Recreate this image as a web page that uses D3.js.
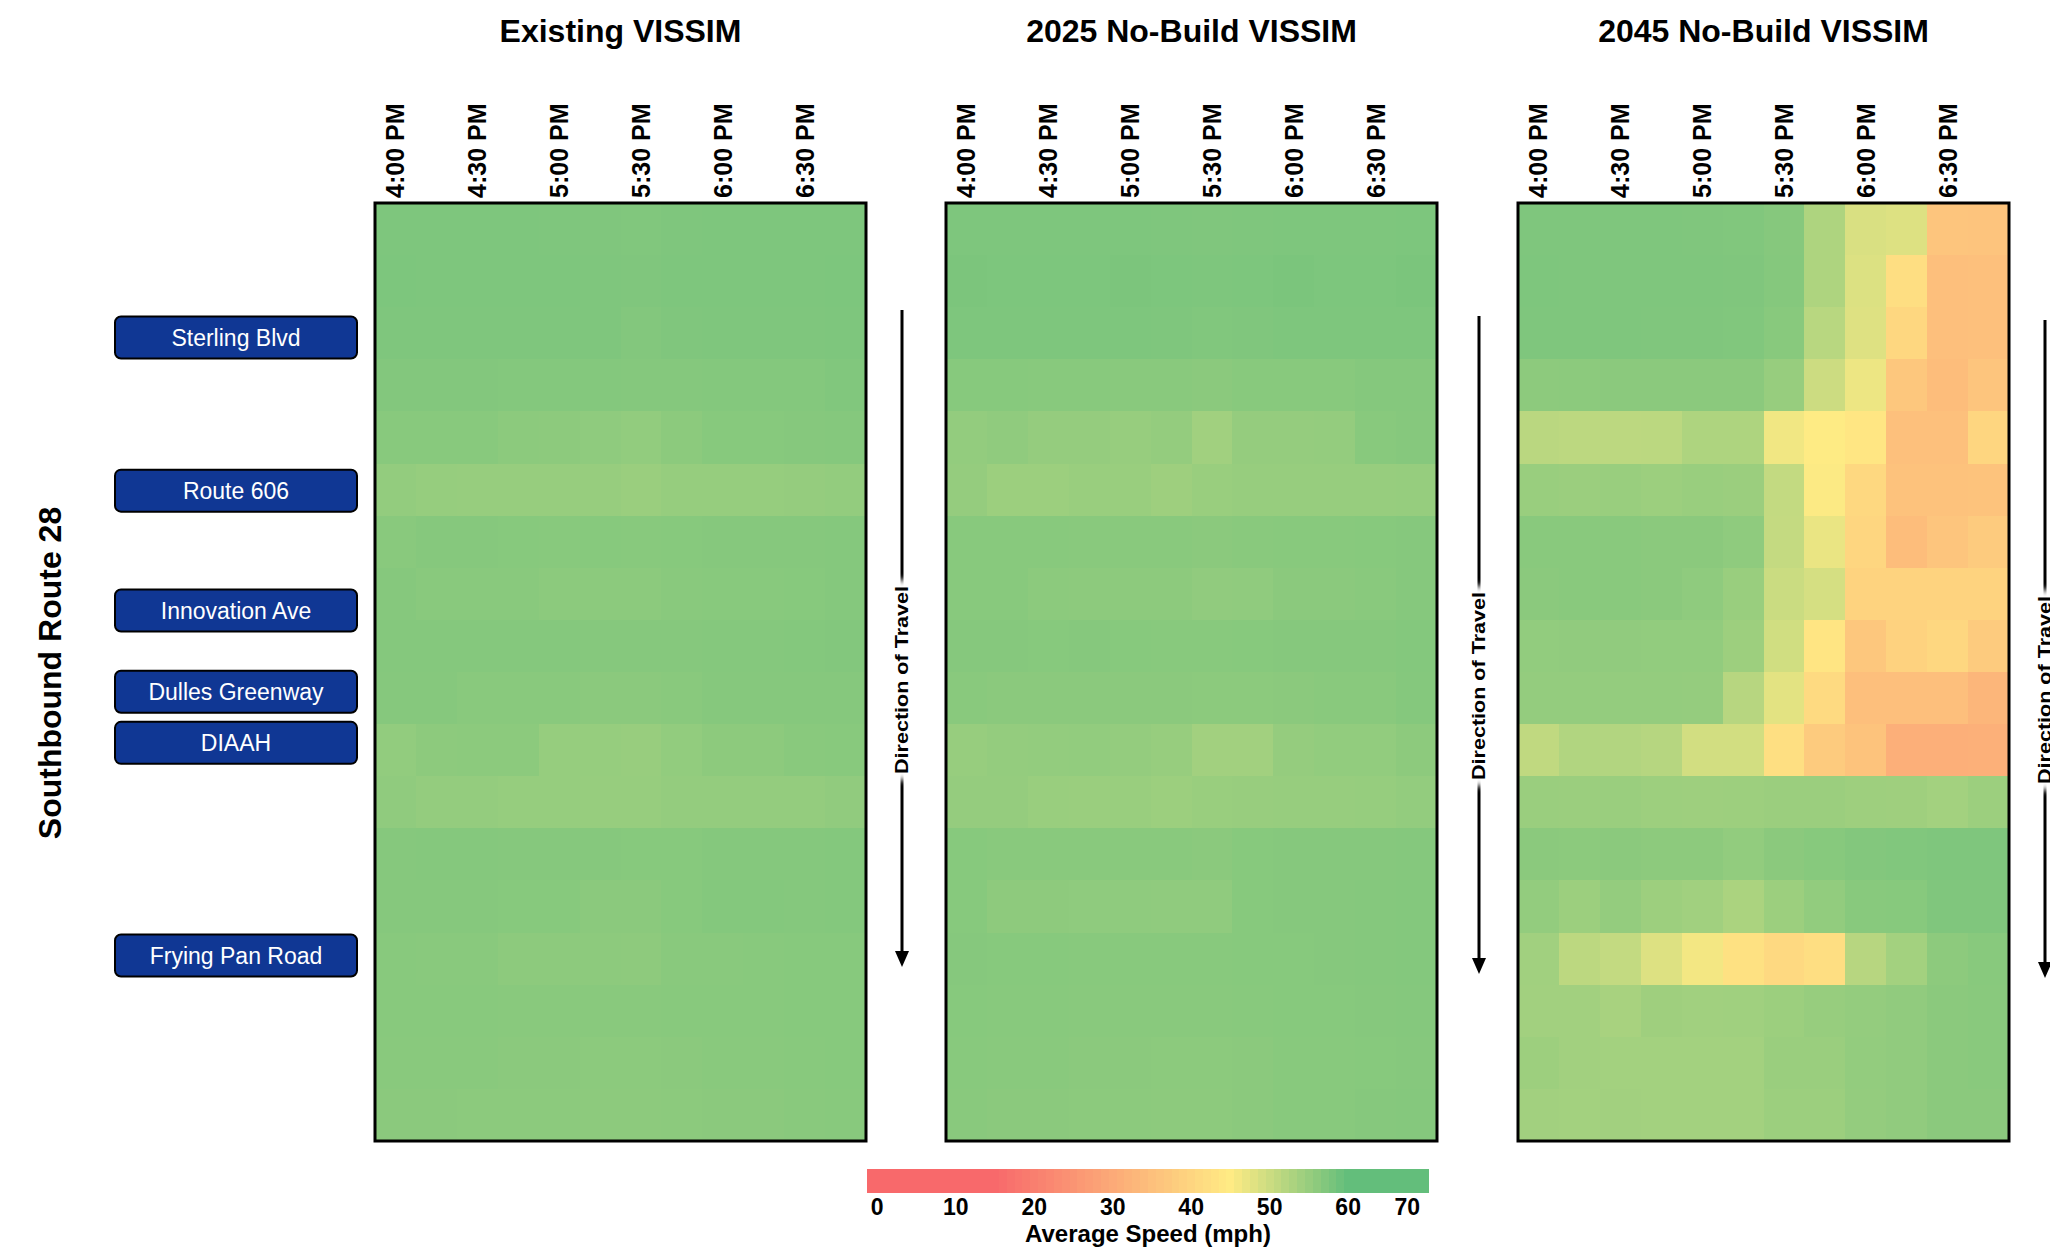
<!DOCTYPE html>
<html>
<head>
<meta charset="utf-8">
<script src="https://cdn.jsdelivr.net/npm/d3@7"></script>
<style>
  body { margin: 0; background: #fff; }
  svg text { font-family: Arial, "Liberation Sans", sans-serif; }
</style>
</head>
<body>
<svg id="chart" width="2050" height="1258"></svg>
<script>
// ---- data ----
var scenarios = ["Existing VISSIM", "2025 No-Build VISSIM", "2045 No-Build VISSIM"];

var times = ["4:00 PM", "4:15 PM", "4:30 PM", "4:45 PM", "5:00 PM", "5:15 PM",
             "5:30 PM", "5:45 PM", "6:00 PM", "6:15 PM", "6:30 PM", "6:45 PM"];
var timeTicks = ["4:00 PM", "4:30 PM", "5:00 PM", "5:30 PM", "6:00 PM", "6:30 PM"];

// average speed (mph), one row per segment (north -> south), one column per 15 min
var existingSpeeds = [
  [57.4,57.4,57.4,57.4,57.3,57.2,57.1,57.3,57.4,57.4,57.4,57.4],
  [57.5,57.4,57.4,57.4,57.4,57.3,57.2,57.4,57.4,57.4,57.4,57.5],
  [57.3,57.3,57.3,57.3,57.3,57.3,56.9,57.2,57.3,57.3,57.3,57.4],
  [56.9,56.9,56.9,56.8,56.8,56.8,56.7,56.7,56.8,56.8,56.8,57.1],
  [56.4,56.4,56.4,56.1,56.0,55.8,55.5,56.1,56.5,56.5,56.6,56.7],
  [55.4,55.1,55.0,55.0,55.0,55.0,54.7,55.1,55.1,55.1,55.2,55.4],
  [56.3,56.6,56.6,56.5,56.4,56.5,56.4,56.5,56.6,56.6,56.6,56.7],
  [56.6,56.3,56.3,56.3,56.1,56.1,56.1,56.3,56.4,56.4,56.5,56.7],
  [56.7,56.7,56.7,56.7,56.7,56.6,56.6,56.6,56.7,56.7,56.8,56.9],
  [56.6,56.6,56.3,56.3,56.3,56.2,56.2,56.3,56.6,56.6,56.6,56.6],
  [55.5,56.0,56.1,56.1,55.1,55.1,54.9,55.5,56.0,56.0,56.3,56.4],
  [55.7,55.3,55.3,55.1,55.1,55.0,55.0,55.3,55.3,55.3,55.3,55.6],
  [56.6,56.7,56.7,56.6,56.6,56.6,56.5,56.5,56.7,56.7,56.7,56.8],
  [56.6,56.6,56.6,56.5,56.5,56.2,56.2,56.5,56.8,56.8,56.7,56.8],
  [56.4,56.3,56.3,56.0,56.0,56.0,55.9,56.3,56.3,56.4,56.5,56.5],
  [56.4,56.4,56.4,56.3,56.3,56.3,56.3,56.4,56.4,56.4,56.5,56.5],
  [56.3,56.3,56.3,56.2,56.2,56.1,56.1,56.2,56.3,56.3,56.4,56.5],
  [56.2,56.2,56.1,56.1,56.1,56.0,56.0,56.1,56.2,56.2,56.3,56.4]
];

var nb2025Speeds = [
  [57.4,57.4,57.4,57.4,57.4,57.3,57.2,57.3,57.4,57.4,57.4,57.5],
  [57.6,57.5,57.5,57.5,57.6,57.5,57.4,57.5,57.7,57.5,57.5,57.7],
  [57.4,57.4,57.4,57.4,57.4,57.3,57.1,57.2,57.4,57.4,57.4,57.4],
  [56.5,56.5,56.4,56.4,56.3,56.3,56.2,56.4,56.4,56.4,56.7,56.7],
  [55.4,55.7,55.2,55.2,55.0,55.3,54.0,55.2,55.2,55.3,56.4,56.6],
  [55.2,54.5,54.5,54.8,54.8,54.3,54.8,55.0,55.0,55.0,55.0,55.1],
  [56.4,56.4,56.4,56.3,56.3,56.3,56.2,56.3,56.4,56.4,56.5,56.6],
  [56.4,56.4,56.1,56.0,56.0,56.0,55.6,55.7,56.2,56.2,56.3,56.6],
  [56.6,56.6,56.5,56.6,56.5,56.4,56.4,56.5,56.6,56.6,56.6,56.8],
  [56.3,56.2,56.2,56.2,56.2,56.2,56.1,56.1,56.2,56.3,56.3,56.7],
  [55.0,55.3,55.4,55.5,55.3,55.0,53.9,53.9,55.2,55.5,55.5,56.0],
  [55.2,55.2,54.8,54.7,54.8,54.5,54.8,54.9,55.0,55.0,55.1,55.4],
  [56.5,56.3,56.3,56.3,56.3,56.3,56.2,56.5,56.6,56.6,56.6,56.7],
  [56.5,55.9,55.9,55.8,55.8,55.7,55.7,56.5,56.6,56.6,56.7,56.8],
  [56.6,56.5,56.5,56.4,56.4,56.4,56.4,56.5,56.5,56.6,56.7,56.8],
  [56.5,56.4,56.4,56.3,56.3,56.3,56.3,56.4,56.5,56.5,56.6,56.7],
  [56.4,56.3,56.3,56.2,56.2,56.1,56.1,56.2,56.4,56.4,56.5,56.6],
  [56.3,56.2,56.2,56.1,56.1,56.0,56.0,56.2,56.4,56.4,56.6,56.7]
];

var nb2045Speeds = [
  [57.3,57.3,57.3,57.3,57.2,57.1,56.6,52.8,48.7,48.3,36.2,36.0],
  [57.4,57.3,57.3,57.3,57.3,57.2,56.7,52.8,48.4,42.0,34.8,35.0],
  [57.3,57.3,57.3,57.2,57.2,57.1,56.4,51.8,48.2,40.4,34.8,35.1],
  [56.0,56.1,56.2,56.2,56.2,56.2,55.0,49.9,46.7,36.7,34.4,36.3],
  [51.6,51.4,51.4,51.5,52.8,52.8,46.3,45.1,43.8,35.0,35.0,40.2],
  [54.8,54.6,54.8,54.5,54.8,54.6,50.8,45.3,40.6,35.5,35.5,35.8],
  [56.3,56.3,56.3,56.2,56.2,55.8,50.7,47.0,40.2,34.4,36.3,37.6],
  [56.2,56.3,56.3,56.2,55.8,54.8,50.1,49.0,39.4,39.4,39.4,39.5],
  [55.5,55.6,55.6,55.5,55.5,54.4,49.5,43.6,36.7,39.2,40.4,37.6],
  [55.3,55.3,55.3,55.3,55.2,51.9,47.7,41.1,34.8,34.8,34.8,32.8],
  [51.1,52.5,52.4,52.0,49.3,49.3,42.3,37.6,35.7,31.2,31.2,31.3],
  [54.7,54.6,54.7,54.4,54.3,54.4,54.6,54.6,54.3,54.2,53.8,54.5],
  [56.2,56.1,56.2,56.0,56.0,55.5,56.2,56.5,56.9,57.1,57.3,57.3],
  [55.4,54.5,55.3,54.4,54.0,53.1,54.5,55.5,56.4,56.5,57.2,57.2],
  [54.0,51.4,50.8,48.3,46.2,42.7,40.8,42.0,51.9,53.8,56.0,56.4],
  [53.9,53.9,53.4,54.2,54.0,54.1,54.5,55.0,55.3,55.6,56.2,56.3],
  [54.4,53.9,53.8,53.8,53.8,53.8,54.7,54.7,55.4,55.6,56.2,56.3],
  [53.9,53.8,53.9,53.8,53.8,53.8,54.5,54.5,55.3,55.6,56.2,56.2]
];

var interchanges = ["Sterling Blvd", "Route 606", "Innovation Ave",
                    "Dulles Greenway", "DIAAH", "Frying Pan Road"];
// where each interchange sits along the corridor, in segment units from the north end
var interchangeSegment = [2.58, 5.52, 7.82, 9.38, 10.36, 14.44];

var legendTicks = [0, 10, 20, 30, 40, 50, 60, 70];
var speedStops = [15, 45, 60];
var speedColors = ["#F8696B", "#FFEB84", "#63BE7B"];

// ---- layout ----
var panelX = [375, 946, 1518];
var panelTop = 203, panelW = 491, panelH = 938;
var arrowDx = [36, 42, 36];       // arrow offset from each panel's right edge
var arrowTop = [310, 316, 320];
var arrowBottom = [967, 974, 978];
var arrowText = [680, 686, 690];

var svg = d3.select("#chart");
svg.append("rect").attr("width", 2050).attr("height", 1258).attr("fill", "#fff");

var defs = svg.append("defs");
defs.append("filter").attr("id", "soft")
  .attr("x", "-50%").attr("y", "-10%").attr("width", "200%").attr("height", "120%")
  .append("feGaussianBlur").attr("stdDeviation", 3);

var color = d3.scaleLinear().domain(speedStops).range(speedColors).clamp(true);

var panelData = [existingSpeeds, nb2025Speeds, nb2045Speeds];

var x = d3.scaleBand().domain(times).range([0, panelW]);
var y = d3.scaleBand().domain(d3.range(existingSpeeds.length)).range([0, panelH]);

panelData.forEach(function(rows, p) {
  var g = svg.append("g").attr("transform", "translate(" + panelX[p] + "," + panelTop + ")");

  // cells
  var cells = [];
  rows.forEach(function(r, i) {
    r.forEach(function(v, j) { cells.push({ row: i, time: times[j], v: v }); });
  });
  g.selectAll("rect.cell").data(cells).enter().append("rect")
    .attr("class", "cell")
    .attr("x", function(d) { return x(d.time); })
    .attr("y", function(d) { return y(d.row); })
    .attr("width", x.bandwidth() + 0.6)
    .attr("height", y.bandwidth() + 0.6)
    .attr("fill", function(d) { return color(d.v); })
    .attr("shape-rendering", "crispEdges");

  g.append("rect")
    .attr("width", panelW).attr("height", panelH)
    .attr("fill", "none").attr("stroke", "#000").attr("stroke-width", 3);

  // time axis, labels turned upright
  var axis = g.append("g").call(d3.axisTop(x).tickValues(timeTicks).tickSize(0));
  axis.select(".domain").remove();
  axis.selectAll("text")
    .attr("transform", "rotate(-90)")
    .attr("x", 5).attr("y", 0).attr("dy", "0.36em")
    .attr("text-anchor", "start")
    .attr("font-size", 25).attr("font-weight", "bold")
    .attr("font-family", "Arial, 'Liberation Sans', sans-serif")
    .attr("fill", "#000");

  // panel title
  svg.append("text")
    .attr("x", panelX[p] + panelW / 2).attr("y", 42)
    .attr("text-anchor", "middle")
    .attr("font-size", 32).attr("font-weight", "bold")
    .text(scenarios[p]);

  // direction of travel arrow
  var ax = panelX[p] + panelW + arrowDx[p];
  var a = svg.append("g");
  a.append("line")
    .attr("x1", ax).attr("x2", ax)
    .attr("y1", arrowTop[p]).attr("y2", arrowBottom[p] - 14)
    .attr("stroke", "#000").attr("stroke-width", 3);
  a.append("path")
    .attr("d", "M" + (ax - 7) + "," + (arrowBottom[p] - 16) + "L" + (ax + 7) + "," + (arrowBottom[p] - 16) +
               "L" + ax + "," + arrowBottom[p] + "Z")
    .attr("fill", "#000");
  a.append("rect")
    .attr("x", ax - 11).attr("y", arrowText[p] - 100)
    .attr("width", 22).attr("height", 200)
    .attr("fill", "#fff").attr("filter", "url(#soft)");
  a.append("text")
    .attr("transform", "translate(" + ax + "," + arrowText[p] + ") rotate(-90)")
    .attr("text-anchor", "middle").attr("dy", "0.36em")
    .attr("font-size", 18).attr("font-weight", "bold")
    .attr("textLength", 188).attr("lengthAdjust", "spacingAndGlyphs")
    .text("Direction of Travel");
});

// corridor title
svg.append("text")
  .attr("transform", "translate(49,673) rotate(-90)")
  .attr("text-anchor", "middle").attr("dy", "0.36em")
  .attr("font-size", 32).attr("font-weight", "bold")
  .text("Southbound Route 28");

// interchange tags
var tags = svg.selectAll("g.tag").data(interchanges).enter().append("g")
  .attr("class", "tag")
  .attr("transform", function(d, i) {
    return "translate(115," + (panelTop + y.step() * interchangeSegment[i]) + ")";
  });
tags.append("rect")
  .attr("x", 0).attr("y", -21).attr("width", 242).attr("height", 42)
  .attr("rx", 6).attr("ry", 6)
  .attr("fill", "#103794").attr("stroke", "#000").attr("stroke-width", 2);
tags.append("text")
  .attr("x", 121).attr("dy", "0.36em")
  .attr("text-anchor", "middle")
  .attr("font-size", 23).attr("fill", "#fff")
  .text(function(d) { return d; });

// colour legend
var lx = d3.scaleLinear().domain([-1.3, 70.3]).range([867, 1429]);
var legend = svg.append("g");
var steps = d3.range(-1, 71);
legend.selectAll("rect").data(steps).enter().append("rect")
  .attr("x", function(v) { return Math.max(lx(v - 0.5), lx.range()[0]); })
  .attr("y", 1169)
  .attr("width", function(v) { return Math.min(lx(v + 0.5), lx.range()[1]) - Math.max(lx(v - 0.5), lx.range()[0]) + 0.4; })
  .attr("height", 24)
  .attr("fill", function(v) { return color(v); })
  .attr("shape-rendering", "crispEdges");

legend.selectAll("text.tick").data(legendTicks).enter().append("text")
  .attr("class", "tick")
  .attr("x", function(v, i) { return i === legendTicks.length - 1 ? lx.range()[1] - 9 : lx(v); })
  .attr("y", 1215)
  .attr("text-anchor", function(v, i) { return i === legendTicks.length - 1 ? "end" : "middle"; })
  .attr("font-size", 23).attr("font-weight", "bold")
  .text(function(v) { return v; });

legend.append("text")
  .attr("x", (lx.range()[0] + lx.range()[1]) / 2).attr("y", 1242)
  .attr("text-anchor", "middle")
  .attr("font-size", 24).attr("font-weight", "bold")
  .text("Average Speed (mph)");
</script>
</body>
</html>
